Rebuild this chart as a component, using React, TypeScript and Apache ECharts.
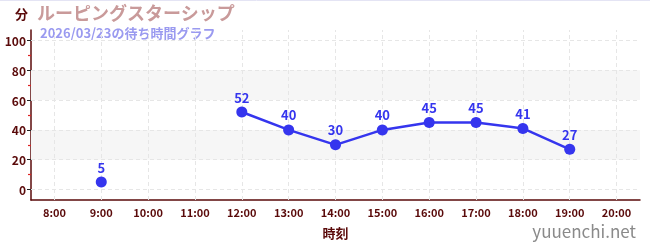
import React, { useEffect, useRef } from "react";
import * as echarts from "echarts";

const categories = ["8:00", "9:00", "10:00", "11:00", "12:00", "13:00", "14:00", "15:00", "16:00", "17:00", "18:00", "19:00", "20:00"];
const waitMinutes: (number | null)[] = [null, 5, null, null, 52, 40, 30, 40, 45, 45, 41, 27, null];
const yTickValues = [0, 20, 40, 60, 80, 100];
const yMinorTickValues = [10, 30, 50, 70, 90];
const shadedBands: [number, number][] = [[20, 40], [60, 80]];
const titleText = "ルーピングスターシップ";
const subtitleText = "2026/03/23の待ち時間グラフ";
const yUnit = "分";
const xName = "時刻";
const watermark = "yuuenchi.net";

const FONT = "'Noto Sans CJK JP', 'Noto Sans', sans-serif";
const AXIS_COLOR = "#5a0a0a";

export default function App() {
  const ref = useRef<HTMLDivElement>(null);
  useEffect(() => {
    if (!ref.current) return;
    const chart = echarts.init(ref.current, undefined, { renderer: "svg" });
    chart.setOption({
      animation: false,
      textStyle: { fontFamily: FONT },
      grid: { left: 31, right: 10, top: 30, bottom: 50 },
      graphic: [
        { type: "line", shape: { x1: 0, y1: 0.5, x2: 650, y2: 0.5 }, style: { stroke: "#e4e4f4", lineWidth: 1 } },
        { type: "text", left: 37, top: 3, style: { text: titleText, fill: "#c99a9a", font: `bold 18px ${FONT}`, lineHeight: 18 } },
        { type: "text", left: 40, top: 26, style: { text: subtitleText, fill: "#9a9af0", font: `bold 13px ${FONT}`, lineHeight: 13 } },
        { type: "text", left: 15, top: 7, style: { text: yUnit, fill: AXIS_COLOR, font: `bold 13px ${FONT}` } },
        { type: "text", right: 14, top: 222, style: { text: watermark, fill: "#8a8a8a", font: `17px ${FONT}` } },
      ],
      xAxis: {
        type: "category",
        data: categories,
        boundaryGap: true,
        name: xName,
        nameLocation: "middle",
        nameGap: 26,
        nameTextStyle: { color: AXIS_COLOR, fontWeight: "bold", fontSize: 13, fontFamily: FONT },
        axisLine: { onZero: false, lineStyle: { color: AXIS_COLOR, width: 1.5 } },
        axisTick: { alignWithLabel: true, length: 4, lineStyle: { color: "#888" } },
        axisLabel: { color: AXIS_COLOR, fontWeight: "bold", fontSize: 11, margin: 6, interval: 0 },
        splitLine: { show: false },
      },
      yAxis: [
        {
          type: "value",
          min: -7,
          max: 107,
          axisLine: { show: true, lineStyle: { color: AXIS_COLOR, width: 1.5 } },
          axisTick: { show: true, customValues: yTickValues, length: 4, lineStyle: { color: "#222" } },
          axisLabel: { customValues: yTickValues, color: AXIS_COLOR, fontWeight: "bold", fontSize: 12, margin: 5 },
          splitLine: { show: false },
        },
        {
          type: "value",
          min: -7,
          max: 107,
          position: "left",
          axisLine: { show: false },
          axisTick: { show: true, customValues: yMinorTickValues, length: 3, lineStyle: { color: "#dd2222", width: 1.2 } },
          axisLabel: { show: false, customValues: yMinorTickValues },
          splitLine: { show: false },
        },
      ],
      series: [
        {
          type: "line",
          data: waitMinutes,
          connectNulls: false,
          symbol: "circle",
          symbolSize: 11,
          lineStyle: { color: "#3535ee", width: 2.5 },
          itemStyle: { color: "#3535ee" },
          label: { show: true, position: "top", color: "#3535ee", fontWeight: "bold", fontSize: 13, distance: 3 },
          z: 5,
          markArea: {
            silent: true,
            itemStyle: { color: "#f6f6f6" },
            data: shadedBands.map(([a, b]) => [{ yAxis: a }, { yAxis: b }]),
          },
          markLine: {
            silent: true,
            symbol: "none",
            label: { show: false },
            lineStyle: { color: "#e6e6e6", type: [4, 3], width: 1 },
            data: [
              ...yTickValues.map((v) => ({ yAxis: v })),
              ...categories.map((c) => ({ xAxis: c })),
            ],
          },
        },
      ],
    });
    return () => chart.dispose();
  }, []);
  return <div ref={ref} style={{ position: "fixed", left: 0, top: 0, width: 650, height: 250 }} />;
}
